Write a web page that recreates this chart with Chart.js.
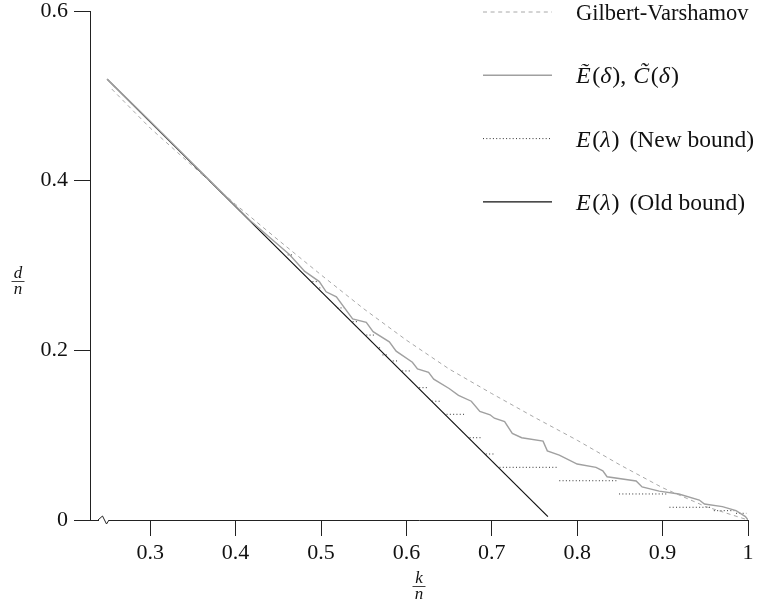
<!DOCTYPE html>
<html>
<head>
<meta charset="utf-8">
<script src="https://cdn.jsdelivr.net/npm/chart.js@4.4.1/dist/chart.umd.min.js"></script>
<style>
  html, body { margin: 0; padding: 0; background: #fff; }
  #wrap { width: 760px; height: 606px; }
</style>
</head>
<body>
<div id="wrap"><canvas id="boundsChart" width="760" height="606"></canvas></div>
<script>
// rate k/n on x, relative distance d/n on y
const xTicks = [0.3, 0.4, 0.5, 0.6, 0.7, 0.8, 0.9, 1.0];
const xTickLabels = ['0.3', '0.4', '0.5', '0.6', '0.7', '0.8', '0.9', '1'];
const yTicks = [0, 0.2, 0.4, 0.6];
const yTickLabels = ['0', '0.2', '0.4', '0.6'];

// Gilbert-Varshamov
const gvRate = [0.255, 0.30, 0.35, 0.40, 0.45, 0.50, 0.55, 0.60, 0.65, 0.70, 0.75, 0.80, 0.85, 0.90, 0.95, 1.00];
const gvDist = [0.508, 0.462, 0.417, 0.372, 0.330, 0.289, 0.249, 0.212, 0.178, 0.149, 0.121, 0.094, 0.065, 0.038, 0.016, 0.0];

// E~(delta), C~(delta)
const ecRate = [0.2495, 0.30, 0.35, 0.40, 0.417, 0.44, 0.463, 0.481, 0.498, 0.506, 0.518, 0.537, 0.553, 0.561, 0.580, 0.588,
  0.607, 0.613, 0.626, 0.632, 0.650, 0.661, 0.676, 0.686, 0.698, 0.703, 0.715, 0.724, 0.735, 0.760, 0.765, 0.779,
  0.800, 0.822, 0.830, 0.835, 0.869, 0.876, 0.896, 0.919, 0.943, 0.949, 0.970, 0.986, 0.997, 1.0];
const ecDist = [0.5197, 0.470, 0.420, 0.370, 0.353, 0.333, 0.313, 0.293, 0.281, 0.269, 0.263, 0.237, 0.233, 0.222, 0.210, 0.199,
  0.186, 0.178, 0.174, 0.166, 0.155, 0.147, 0.140, 0.128, 0.124, 0.120, 0.116, 0.102, 0.097, 0.093, 0.0815, 0.0765,
  0.066, 0.062, 0.058, 0.051, 0.046, 0.039, 0.034, 0.0306, 0.0235, 0.0188, 0.0157, 0.011, 0.004, 0.0];

// E(lambda) new bound: horizontal steps
const stepFrom  = [0.461, 0.480, 0.490, 0.498, 0.519, 0.537, 0.553, 0.568, 0.572, 0.584, 0.595, 0.615, 0.630, 0.647, 0.674, 0.693, 0.709, 0.779, 0.849, 0.908, 0.960, 0.986];
const stepTo    = [0.466, 0.483, 0.495, 0.501, 0.527, 0.543, 0.562, 0.571, 0.578, 0.590, 0.606, 0.625, 0.641, 0.668, 0.688, 0.703, 0.777, 0.847, 0.905, 0.957, 0.984, 0.998];
const stepLevel = [0.3125, 0.293, 0.281, 0.2736, 0.250, 0.2338, 0.218, 0.203, 0.1946, 0.1875, 0.1757, 0.156, 0.140, 0.1246, 0.097, 0.0778, 0.0621, 0.0463, 0.0307, 0.015, 0.011, 0.0079];

// E(lambda) old bound
const oldRate = [0.2495, 0.7657];
const oldDist = [0.5197, 0.004];

const serif = '"Liberation Serif", "Times New Roman", serif';

function pts(xs, ys) {
    return xs.map((x, i) => ({ x: x, y: ys[i] }));
}

function stepPts() {
    const out = [];
    stepLevel.forEach((lv, i) => {
        out.push({ x: stepFrom[i], y: lv });
        out.push({ x: stepTo[i], y: lv });
        out.push({ x: stepTo[i], y: null });
    });
    return out;
}

// legend pieces: [text, italic, size, gap after]
const series = [
    { parts: [['Gilbert-Varshamov', 0, 22.5, 0]], color: '#a8a8a8', width: 1, dash: [4, 3.6], data: pts(gvRate, gvDist) },
    { parts: [['E\u0303', 1, 24, 1.5], ['(', 0, 24, 0], ['\u03b4', 1, 24, 1], [')', 0, 24, 0], [',', 0, 24, 7],
              ['C\u0303', 1, 24, 1.5], ['(', 0, 24, 0], ['\u03b4', 1, 24, 1], [')', 0, 24, 0]],
      color: '#a0a0a0', width: 1.4, dash: [], data: pts(ecRate, ecDist) },
    { parts: [['E', 1, 24, 1.5], ['(', 0, 24, 0], ['\u03bb', 1, 24, 1], [')', 0, 24, 10], ['(New bound)', 0, 23.5, 0]],
      color: '#333', width: 1, dash: [1, 2.3], data: stepPts() },
    { parts: [['E', 1, 24, 1.5], ['(', 0, 24, 0], ['\u03bb', 1, 24, 1], [')', 0, 24, 10], ['(Old bound)', 0, 23.5, 0]],
      color: '#111', width: 1.2, dash: [], data: pts(oldRate, oldDist) }
];

function drawParts(ctx, parts, x, y) {
    parts.forEach(p => {
        ctx.font = (p[1] ? 'italic ' : '') + p[2] + 'px ' + serif;
        ctx.fillText(p[0], x, y);
        x += ctx.measureText(p[0]).width + p[3];
    });
}

function drawFrac(ctx, num, den, cx, barY) {
    ctx.font = 'italic 17px ' + serif;
    ctx.textAlign = 'center';
    ctx.textBaseline = 'alphabetic';
    ctx.fillText(num, cx, barY - 3);
    ctx.fillText(den, cx, barY + 13);
    ctx.beginPath();
    ctx.lineWidth = 0.8;
    ctx.moveTo(cx - 6.5, barY + 0.5);
    ctx.lineTo(cx + 6.5, barY + 0.5);
    ctx.stroke();
    ctx.textAlign = 'left';
}

const extras = {
    id: 'extras',
    afterDraw(chart) {
        const ctx = chart.ctx;
        const area = chart.chartArea;
        ctx.save();
        ctx.fillStyle = '#111';
        ctx.strokeStyle = '#111';

        // legend
        series.forEach((s, i) => {
            const ly = 12 + i * 63.3;
            ctx.beginPath();
            ctx.setLineDash(s.dash);
            ctx.lineWidth = s.width;
            ctx.strokeStyle = s.color;
            ctx.moveTo(483, ly);
            ctx.lineTo(552, ly);
            ctx.stroke();
            ctx.setLineDash([]);
            ctx.textBaseline = 'alphabetic';
            ctx.fillStyle = '#111';
            drawParts(ctx, s.parts, 576, ly + 8);
        });

        // axis titles
        ctx.strokeStyle = '#111';
        drawFrac(ctx, 'd', 'n', 18, 281);
        drawFrac(ctx, 'k', 'n', (area.left + area.right) / 2, 586);

        // axis break on the x axis
        const by = area.bottom;
        ctx.fillStyle = '#fff';
        ctx.fillRect(99, by - 2, 10, 4);
        ctx.beginPath();
        ctx.lineWidth = 1;
        ctx.strokeStyle = '#222';
        ctx.moveTo(98, by);
        ctx.lineTo(102.5, by - 4);
        ctx.lineTo(106.5, by + 4);
        ctx.lineTo(109, by);
        ctx.stroke();
        ctx.restore();
    }
};

const tickFont = { family: serif, size: 22 };

new Chart(document.getElementById('boundsChart').getContext('2d'), {
    type: 'scatter',
    data: {
        datasets: series.map(s => ({
            data: s.data,
            showLine: true,
            spanGaps: false,
            borderColor: s.color,
            borderWidth: s.width,
            borderDash: s.dash,
            pointRadius: 0,
            fill: false,
            tension: 0
        }))
    },
    options: {
        responsive: false,
        animation: false,
        layout: { padding: { top: 11, right: 12, left: 0, bottom: 0 } },
        plugins: { legend: { display: false }, tooltip: { enabled: false } },
        scales: {
            x: {
                type: 'linear',
                min: 0.2295,
                max: 1,
                afterBuildTicks: s => { s.ticks = xTicks.map(v => ({ value: v })); },
                afterFit: s => { s.height = 86; s.paddingLeft = 0; s.paddingRight = 0; },
                grid: { drawOnChartArea: false, drawTicks: true, tickLength: 16, color: '#222' },
                border: { color: '#222', width: 1 },
                ticks: {
                    callback: (v, i) => xTickLabels[i],
                    font: tickFont, color: '#111', padding: 4,
                    maxRotation: 0, autoSkip: false
                }
            },
            y: {
                type: 'linear',
                min: 0,
                max: 0.6,
                afterBuildTicks: s => { s.ticks = yTicks.map(v => ({ value: v })); },
                afterFit: s => { s.width = 90; s.paddingTop = 0; s.paddingBottom = 0; },
                grid: { drawOnChartArea: false, drawTicks: true, tickLength: 16, color: '#222' },
                border: { color: '#222', width: 1 },
                ticks: {
                    callback: (v, i) => yTickLabels[i],
                    font: tickFont, color: '#111', padding: 6,
                    autoSkip: false
                }
            }
        }
    },
    plugins: [extras]
});
</script>
</body>
</html>
